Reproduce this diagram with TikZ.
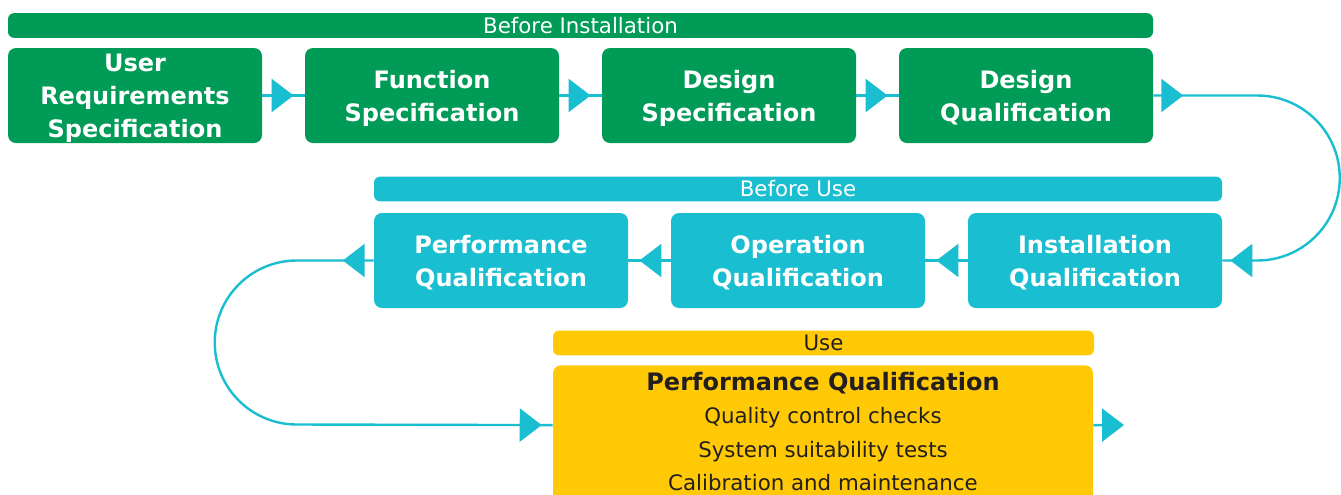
\documentclass[tikz,border=0pt]{standalone}
\usepackage{fontspec}
\setmainfont{DejaVu Sans}
\usetikzlibrary{arrows.meta,decorations.markings}

\definecolor{qgreen}{RGB}{0,156,87}
\definecolor{qcyan}{RGB}{26,190,209}
\definecolor{qyellow}{RGB}{255,201,5}
\definecolor{qtext}{RGB}{35,31,32}

\begin{document}
\begin{tikzpicture}[x=0.75pt,y=0.75pt,yscale=-1,xscale=1,
  >={Triangle[length=16.5pt,width=24.75pt]},
  stagebox/.style={fill=#1, rounded corners=6pt, minimum width=190.5pt, minimum height=71.25pt, inner sep=0pt, align=center, text depth=-1.25pt, text=white, font=\bfseries\fontsize{18}{24.75}\selectfont},
  phasebar/.style={fill=#1, rounded corners=4.5pt, minimum height=18.5pt, inner sep=0pt, text=white, font=\fontsize{16}{18}\selectfont},
  flow/.style={color=qcyan, line width=1.8pt, postaction={decorate}, decoration={markings, mark=at position #1 with {\arrow{>}}}},
  flow/.default=23.5pt,
  loopflow/.style 2 args={color=qcyan, line width=1.8pt, postaction={decorate}, decoration={markings, mark=at position #1 with {\arrow{>}}, mark=at position #2 with {\arrow{>}}}}]
\useasboundingbox (0,0) rectangle (1341,494);
\clip (0,0) rectangle (1341,494);

%Shape: Rounded Rect, phase bars
\node [phasebar=qgreen, minimum width=858.75pt] (befinst) at (580.5,25.5) {Before Installation};
\node [phasebar=qcyan, minimum width=636pt] (befuse) at (798,189) {Before Use};
\node [phasebar=qyellow, minimum width=405.75pt, text=qtext] (use) at (823.5,343) {Use};

%Shape: Rounded Rect, before installation
\node [stagebox=qgreen] (urs) at (135,95.5) {User\\Requirements\\Specification};
\node [stagebox=qgreen] (funspec) at (432,95.5) {Function\\Specification};
\node [stagebox=qgreen] (desspec) at (729,95.5) {Design\\Specification};
\node [stagebox=qgreen] (desqual) at (1026,95.5) {Design\\Qualification};

%Shape: Rounded Rect, before use
\node [stagebox=qcyan] (instqual) at (1095,260.5) {Installation\\Qualification};
\node [stagebox=qcyan] (opqual) at (798,260.5) {Operation\\Qualification};
\node [stagebox=qcyan] (perfqual) at (501,260.5) {Performance\\Qualification};

%Shape: Rounded Rect, use (runs off the bottom edge)
\node [anchor=north, fill=qyellow, rounded corners=6pt, minimum width=405pt, inner xsep=0pt, inner ysep=5.25pt, text depth=5.6pt, align=center, text=qtext, font=\fontsize{16}{25}\selectfont] (perfuse) at (823,365) {{\bfseries\fontsize{18}{25}\selectfont Performance Qualification}\\Quality control checks\\System suitability tests\\Calibration and maintenance};
\coordinate (useout) at (1124,425);

%Straight Lines
\draw [flow] (urs.east) -- (funspec.west);
\draw [flow] (funspec.east) -- (desspec.west);
\draw [flow] (desspec.east) -- (desqual.west);
\draw [flow] (instqual.west) -- (opqual.east);
\draw [flow] (opqual.west) -- (perfqual.east);
\draw [color=qcyan, line width=1.8pt, ->] ([yshift=-7.5pt]perfuse.east) -- (useout);

%Curve Lines
\draw [loopflow={22.5pt}{-6pt}] (desqual.east) -- ++(104,0) arc[start angle=-90, end angle=90, radius=82.5] -- (instqual.east);
\draw [loopflow={23.25pt}{-8.25pt}] (perfqual.west) -- ++(-77,0) arc[start angle=-90, end angle=-270, radius=82] -- ([yshift=-7.5pt]perfuse.west);

\end{tikzpicture}
\end{document}
